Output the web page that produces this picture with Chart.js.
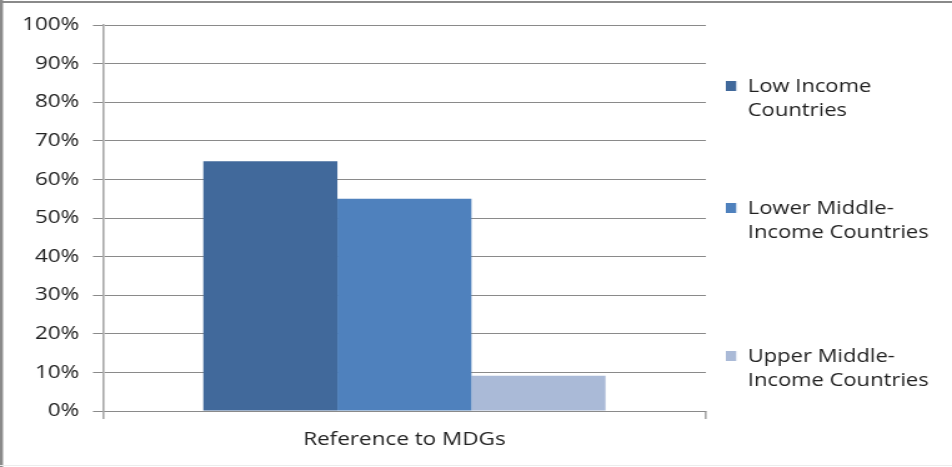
<!DOCTYPE html>
<html>
<head>
<meta charset="utf-8">
<script src="https://cdn.jsdelivr.net/npm/chart.js@4.4.1/dist/chart.umd.min.js"></script>
<style>
  html, body { margin: 0; padding: 0; background: #fff; overflow: hidden; }
  /* the chart is laid out at 762px and shown widened to the 952px frame */
  #wrap { width: 762px; height: 467px; transform: scaleX(1.24934); transform-origin: 0 0; }
  canvas { display: block; }
</style>
</head>
<body>
<div id="wrap"><canvas id="chart" width="762" height="467"></canvas></div>
<script>
// Share of documents making a reference to the MDGs, by country income group
const categories = ['Reference to MDGs'];
const seriesLabels = ['Low Income Countries', 'Lower Middle-Income Countries', 'Upper Middle-Income Countries'];
const legendLines = [['Low Income', 'Countries'], ['Lower Middle-', 'Income Countries'], ['Upper Middle-', 'Income Countries']];
const lowIncome = [64.7];
const lowerMiddleIncome = [55.0];
const upperMiddleIncome = [9.1];
const seriesColors = ['#41699B', '#4F81BD', '#AABAD7'];
const yTickValues = [0, 10, 20, 30, 40, 50, 60, 70, 80, 90, 100];

const FONT = "'Open Sans', 'Liberation Sans', sans-serif";
const TEXT = '#222222';

// Legend at the right, with wrapped labels
const sideLegend = {
  id: 'sideLegend',
  afterDraw(chart) {
    const ctx = chart.ctx;
    const baselines = [92, 214, 362];
    const lineGap = 23.5;
    ctx.save();
    ctx.font = '17.6px ' + FONT;
    ctx.textBaseline = 'alphabetic';
    ctx.textAlign = 'left';
    chart.data.datasets.forEach((ds, i) => {
      const b = baselines[i];
      ctx.fillStyle = ds.backgroundColor;
      ctx.fillRect(581, b - 11, 8.3, 10);
      ctx.fillStyle = TEXT;
      legendLines[i].forEach((line, j) => ctx.fillText(line, 598.5, b + j * lineGap));
    });
    ctx.restore();
  }
};

// Outer frame of the chart object
const frame = {
  id: 'frame',
  beforeDraw(chart) {
    const ctx = chart.ctx;
    ctx.save();
    ctx.fillStyle = '#ffffff';
    ctx.fillRect(0, 0, chart.width, chart.height);
    ctx.restore();
  },
  afterDraw(chart) {
    const ctx = chart.ctx;
    ctx.save();
    ctx.fillStyle = '#8a8a8a';
    ctx.fillRect(0, 1, chart.width, 2);
    ctx.fillRect(0, 0, 2.4, chart.height);
    ctx.fillStyle = '#ececec';
    ctx.fillRect(0, 465, chart.width, 1);
    ctx.restore();
  }
};

new Chart(document.getElementById('chart'), {
  type: 'bar',
  data: {
    labels: categories,
    datasets: [
      { label: seriesLabels[0], data: lowIncome, backgroundColor: seriesColors[0] },
      { label: seriesLabels[1], data: lowerMiddleIncome, backgroundColor: seriesColors[1] },
      { label: seriesLabels[2], data: upperMiddleIncome, backgroundColor: seriesColors[2] }
    ]
  },
  options: {
    responsive: false,
    animation: false,
    devicePixelRatio: 1,
    layout: { padding: { left: 0, right: 197, top: 25, bottom: 0 } },
    datasets: { bar: { barPercentage: 1, categoryPercentage: 0.667, borderWidth: 0 } },
    plugins: { legend: { display: false }, tooltip: { enabled: false } },
    scales: {
      x: {
        grid: { drawOnChartArea: false, drawTicks: true, tickLength: 8, color: '#a8a8a8', lineWidth: 1.6, offset: true },
        border: { display: true, color: '#8a8a8a', width: 1 },
        ticks: { color: TEXT, font: { family: FONT, size: 18 }, padding: 10 },
        afterFit(scale) { scale.height = 56; }
      },
      y: {
        min: 0,
        max: 100,
        afterBuildTicks(scale) { scale.ticks = yTickValues.map(v => ({ value: v })); },
        ticks: { color: TEXT, font: { family: FONT, size: 18 }, padding: 11, callback: v => v + '%' },
        grid: { color: '#8a8a8a', lineWidth: 1, tickLength: 8, drawTicks: true },
        border: { display: true, color: '#a8a8a8', width: 1.6 },
        afterFit(scale) { scale.width = 82.4; }
      }
    }
  },
  plugins: [frame, sideLegend]
});
</script>
</body>
</html>
